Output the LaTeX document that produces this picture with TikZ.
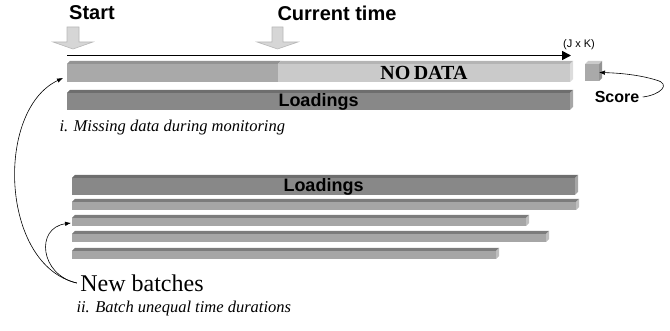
\documentclass[tikz,border=0pt]{standalone}
\usepackage{fontspec}
\setmainfont{Liberation Serif}
\setsansfont{Liberation Sans}
\usetikzlibrary{arrows.meta}
\definecolor{dfront}{HTML}{A9A9A9}
\definecolor{dtop}{HTML}{939393}
\definecolor{dside}{HTML}{C4C4C4}
\definecolor{lfront}{HTML}{CACACA}
\definecolor{ltop}{HTML}{B4B4B4}
\definecolor{lside}{HTML}{DCDCDC}
\definecolor{lofront}{HTML}{888888}
\definecolor{lotop}{HTML}{6E6E6E}
\definecolor{loside}{HTML}{A6A6A6}
\definecolor{bfront}{HTML}{A6A6A6}
\definecolor{btop}{HTML}{7C7C7C}
\definecolor{bside}{HTML}{BEBEBE}
\definecolor{arrfill}{HTML}{D6D6D6}
\definecolor{arrline}{HTML}{B8B8B8}
\newcommand\topface[2]{\fill[#2] (#1.north west) -- ++(3,-3) -- ([shift={(3,-3)}]#1.north east) -- (#1.north east) -- cycle;}
\newcommand\sideface[2]{\fill[#2] (#1.north east) -- ++(3,-3) -- ([shift={(3,-3)}]#1.south east) -- (#1.south east) -- cycle;}
\tikzset{
  barbox/.style={inner sep=0pt, outer sep=0pt, anchor=north west},
  bigsans/.style={font=\sffamily\bfseries\fontsize{20}{22}\selectfont},
  lbl/.style={font=\sffamily\bfseries\fontsize{18}{20}\selectfont},
  caption/.style={font=\itshape\fontsize{16.5}{18}\selectfont, anchor=west},
  downarrow/.style={fill=arrfill, draw=arrline, line width=0.6pt},
  thin/.style={line width=0.6pt, -{Latex[length=6pt,width=4.5pt]}},
}
\begin{document}
\begin{tikzpicture}[x=1pt,y=-1pt]
\useasboundingbox (0,0) rectangle (670,331);
% titles
\node[bigsans] (start) at (92,13) {Start};
\node[bigsans] (ctime) at (337,13) {Current time};
% block arrows
\draw[downarrow] (67,27) -- (79,27) -- (79,42) -- (93,42) -- (73,49) -- (53,42) -- (67,42) -- cycle;
\draw[downarrow] (272,27) -- (283,27) -- (283,42) -- (298,42) -- (277.5,49) -- (257,42) -- (272,42) -- cycle;
% timeline
\coordinate (t0) at (67,55.5);
\coordinate (t1) at (571,55.5);
\draw[line width=1.6pt, -{Triangle[length=9pt,width=9pt]}] (t0) -- (t1);
\node[font=\sffamily\fontsize{11}{12}\selectfont] (jk) at (579,45) {(J x K)};
% top data bar
\node[barbox, fill=dfront, minimum width=211pt, minimum height=18pt] (td1) at (67,64) {};
\node[barbox, fill=lfront, minimum width=292pt, minimum height=18pt, font=\bfseries\fontsize{20}{22}\selectfont] (td2) at (278,64) {NO\,DATA};
\topface{td1}{dtop}
\topface{td2}{ltop}
\sideface{td2}{lside}
% score box
\node[barbox, fill=dfront, minimum width=14pt, minimum height=17pt] (sc) at (585,64) {};
\topface{sc}{lfront}
\sideface{sc}{dtop}
% loadings top
\node[barbox, fill=lofront, minimum width=503pt, minimum height=14pt, lbl] (lo1) at (67,93) {Loadings};
\topface{lo1}{lotop}
\sideface{lo1}{loside}
% score label
\node[font=\sffamily\bfseries\fontsize{16}{18}\selectfont] (score) at (617,97) {Score};
\draw[thin] (score.east) .. controls (660,95) and (672,84) .. (656,80) .. controls (640,75) and (620,73) .. (sc.east);
% caption i
\node[caption] (cap1) at (56,128) {i. Missing data during monitoring};
% bottom loadings
\node[barbox, fill=lofront, minimum width=503pt, minimum height=14pt, lbl] (lo2) at (72,178) {Loadings};
\topface{lo2}{lotop}
\sideface{lo2}{loside}
% batches
\node[barbox, fill=bfront, minimum width=504pt, minimum height=8pt] (b1) at (72,202) {};
\node[barbox, fill=bfront, minimum width=454pt, minimum height=8pt] (b2) at (72,218) {};
\node[barbox, fill=bfront, minimum width=474pt, minimum height=8pt] (b3) at (72,234) {};
\node[barbox, fill=bfront, minimum width=424pt, minimum height=8pt] (b4) at (72,251) {};
\foreach \b in {b1,b2,b3,b4}{\topface{\b}{btop}\sideface{\b}{bside}}
% new batches
\node[font=\fontsize{24}{26}\selectfont] (nb) at (142,283) {New batches};
\draw[thin] (nb.west) .. controls (0,265) and (-5,110) .. ([xshift=-4pt,yshift=-5pt]td1.west);
\draw[thin] (nb.west) .. controls (40,275) and (35,228) .. ([xshift=-1pt,yshift=-1pt]b2.west);
% caption ii
\node[caption] (cap2) at (73,309) {ii. Batch unequal time durations};
\end{tikzpicture}
\end{document}
